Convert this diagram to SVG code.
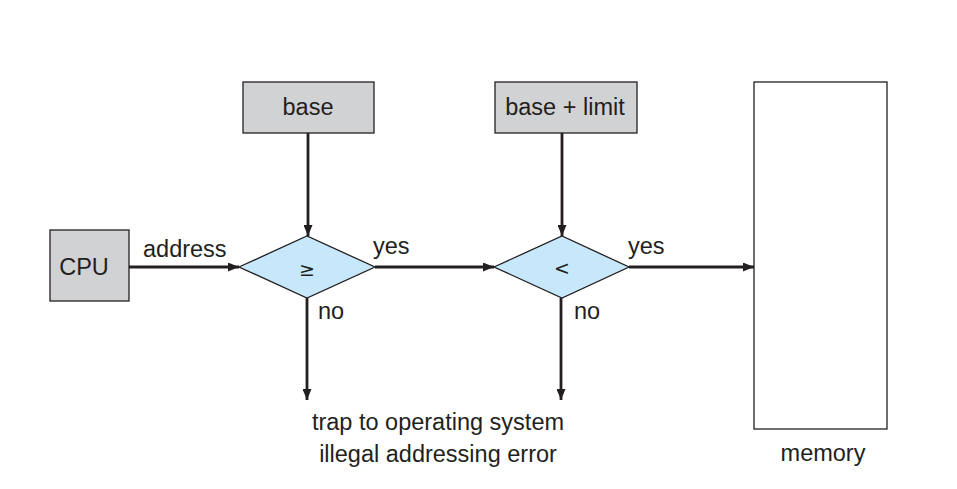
<svg xmlns="http://www.w3.org/2000/svg" width="957" height="489" viewBox="0 0 957 489">
<style>
.box{fill:#d1d2d4;stroke:#231f20;stroke-width:1.3}
.dia{fill:#c6e8fa;stroke:#231f20;stroke-width:1.3}
.mem{fill:#fff;stroke:#231f20;stroke-width:1.3}
.t{font-family:"Liberation Sans",Arial,sans-serif;font-size:23.5px;fill:#231f20}
.c{text-anchor:middle}
.s{font-family:"DejaVu Sans","Liberation Sans",sans-serif;font-size:19px;fill:#231f20;text-anchor:middle}
.ln{stroke:#231f20;stroke-width:2.8;fill:none;marker-end:url(#ah)}
</style>
<defs>
<marker id="ah" viewBox="0 0 11 9" refX="11" refY="4.5" markerWidth="11" markerHeight="9" markerUnits="userSpaceOnUse" orient="auto">
<path d="M0,0 L11,4.5 L0,9 Z" fill="#231f20"/>
</marker>
</defs>
<rect width="957" height="489" fill="#fff"/>
<g id="connectors">
<line class="ln" x1="129" y1="267" x2="239" y2="267"/>
<line class="ln" x1="308" y1="133" x2="308" y2="236"/>
<line class="ln" x1="375" y1="267" x2="494" y2="267"/>
<line class="ln" x1="562" y1="133" x2="562" y2="236"/>
<line class="ln" x1="629" y1="267" x2="754" y2="267"/>
<line class="ln" x1="307" y1="298" x2="307" y2="400"/>
<line class="ln" x1="561" y1="298" x2="561" y2="400"/>
<text class="t" x="143" y="257">address</text>
<text class="t" x="373" y="254">yes</text>
<text class="t" x="628" y="254">yes</text>
<text class="t" x="318" y="319">no</text>
<text class="t" x="574" y="319">no</text>
</g>
<g id="cpu">
<rect class="box" x="50" y="230" width="79" height="71"/>
<text class="t c" x="84" y="275">CPU</text>
</g>
<g id="base">
<rect class="box" x="243" y="82" width="131" height="51"/>
<text class="t c" x="308" y="115">base</text>
</g>
<g id="baselimit">
<rect class="box" x="495" y="82" width="142" height="51"/>
<text class="t c" x="565" y="115">base + limit</text>
</g>
<g id="cmp1">
<polygon class="dia" points="239,267 307,236 375,267 307,298"/>
<text class="s" x="307" y="276">≥</text>
</g>
<g id="cmp2">
<polygon class="dia" points="494,267 562,236 629,267 562,298"/>
<text class="s" x="562" y="275">&lt;</text>
</g>
<g id="memory">
<rect class="mem" x="754" y="82" width="133" height="347"/>
<text class="t c" x="823" y="461">memory</text>
</g>
<g id="trap">
<text class="t c" x="438" y="430">trap to operating system</text>
<text class="t c" x="438" y="462">illegal addressing error</text>
</g>
</svg>
